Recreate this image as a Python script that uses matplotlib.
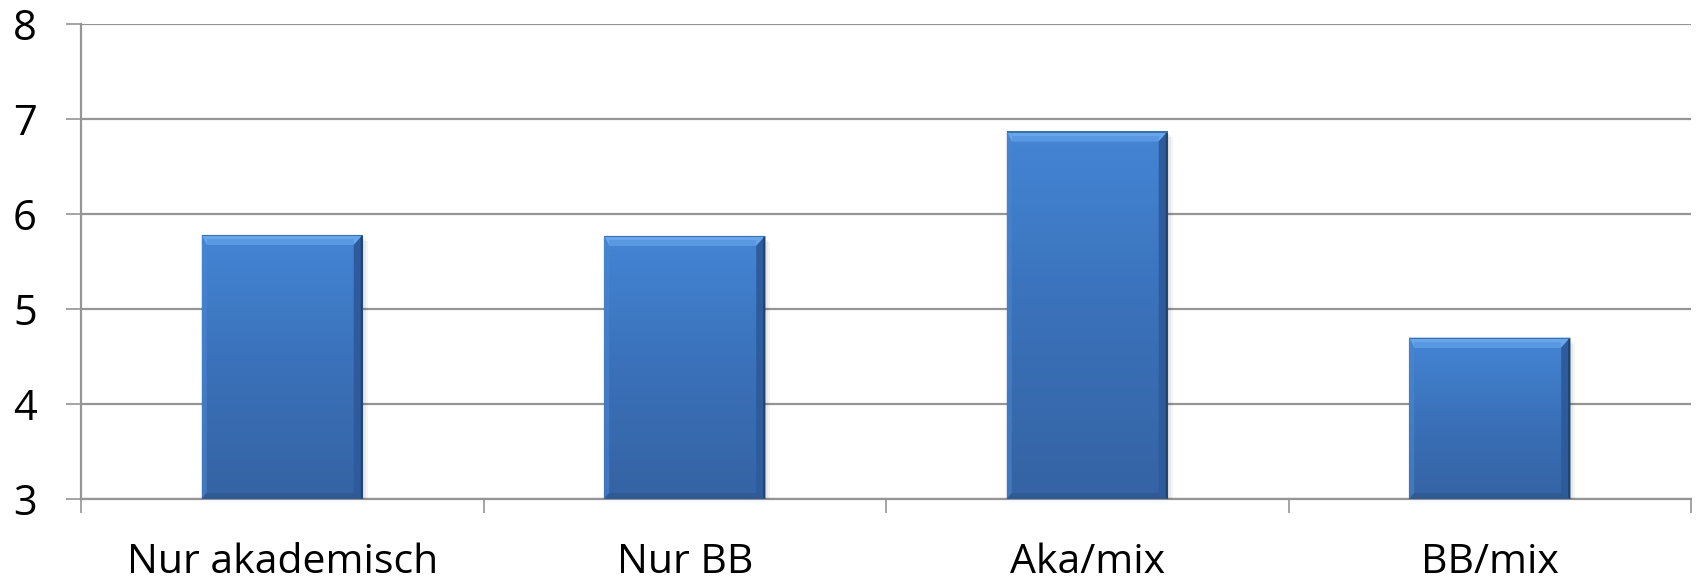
import numpy as np
import matplotlib
matplotlib.use("Agg")
import matplotlib.pyplot as plt
from matplotlib.patches import Polygon, Rectangle
from matplotlib.colors import LinearSegmentedColormap

# Chart data
categories = ["Nur akademisch", "Nur BB", "Aka/mix", "BB/mix"]
values = [5.78, 5.77, 6.87, 4.70]
y_min, y_max = 3, 8
y_ticks = [3, 4, 5, 6, 7, 8]

W, H, DPI = 1698, 582, 100
plt.rcParams["font.family"] = ["Open Sans", "DejaVu Sans"]

fig = plt.figure(figsize=(W / DPI, H / DPI), dpi=DPI)
ax_left, ax_right, ax_top, ax_bottom = 81, 1691, 24, 499
ax = fig.add_axes([ax_left / W, 1 - ax_bottom / H,
                   (ax_right - ax_left) / W, (ax_bottom - ax_top) / H])

x = np.arange(len(categories))
ax.set_xlim(-0.5, len(categories) - 0.5)
ax.set_ylim(y_min, y_max)

grid_col = "#959595"
ax.set_yticks(y_ticks)
ax.yaxis.grid(True, color=grid_col, linewidth=1.6, zorder=0)
ax.set_axisbelow(True)
for s in ["top", "right", "bottom"]:
    ax.spines[s].set_visible(False)
ax.spines["left"].set_color(grid_col)
ax.spines["left"].set_linewidth(1.6)
ax.axhline(y_min, color=grid_col, linewidth=1.6, zorder=1, clip_on=False)

ax.tick_params(axis="y", length=10.8, width=1.2, color=grid_col,
               labelsize=30, pad=21)
ax.set_xticks(x)
ax.set_xticklabels(categories)
ax.tick_params(axis="x", which="major", length=0, labelsize=29.5, pad=31)
ax.set_xticks(np.arange(len(categories) + 1) - 0.5, minor=True)
ax.tick_params(axis="x", which="minor", length=10, width=1.2, color=grid_col)

bar_w = 0.4
bars = ax.bar(x, np.array(values) - y_min, bottom=y_min, width=bar_w,
              color="none", edgecolor="none", zorder=3)

# pixel -> data conversions for bevel and shadow sizes
px_x = (ax_right - ax_left) / (len(categories))   # pixels per x unit
px_y = (ax_bottom - ax_top) / (y_max - y_min)      # pixels per y unit
def dx(p):
    return p / px_x
def dy(p):
    return p / px_y

body_cmap = LinearSegmentedColormap.from_list(
    "body", ["#3563a4", "#3a71b9", "#4485d5"])
grad = np.linspace(0, 1, 256).reshape(-1, 1)

for rect in bars:
    x0 = rect.get_x()
    x1 = x0 + rect.get_width()
    y0 = rect.get_y()
    y1 = y0 + rect.get_height()

    # soft outer shadow
    for i, a in enumerate([0.06, 0.05, 0.04]):
        off = 2 + i * 2
        ax.add_patch(Rectangle((x0 + dx(off - 3), y0), (x1 - x0) + dx(2),
                               (y1 - y0) - dy(off), facecolor="black",
                               alpha=a, edgecolor="none", zorder=2))

    # gradient body
    im = ax.imshow(grad, cmap=body_cmap, aspect="auto", origin="lower",
                   extent=[x0, x1, y0, y1], zorder=3, interpolation="bilinear")
    clip = Rectangle((x0, y0), x1 - x0, y1 - y0, transform=ax.transData)
    im.set_clip_path(clip)

    bt, bs, br, bb = 10, 5, 9, 6  # bevel sizes in pixels
    # top bevel (light)
    ax.add_patch(Polygon([(x0, y1), (x1, y1), (x1 - dx(br), y1 - dy(bt)),
                          (x0 + dx(bs), y1 - dy(bt))],
                         facecolor="#68a6ec", edgecolor="none", zorder=4))
    ax.add_patch(Polygon([(x0 + dx(bs), y1 - dy(bt * 0.45)),
                          (x1 - dx(br), y1 - dy(bt * 0.45)),
                          (x1 - dx(br), y1 - dy(bt)),
                          (x0 + dx(bs), y1 - dy(bt))],
                         facecolor="#5a98e2", edgecolor="none", zorder=4))
    # left bevel (slightly light)
    ax.add_patch(Polygon([(x0, y1), (x0 + dx(bs), y1 - dy(bt)),
                          (x0 + dx(bs), y0 + dy(bb)), (x0, y0)],
                         facecolor="#4a86cf", edgecolor="none", zorder=4,
                         alpha=0.6))
    # right bevel (dark)
    ax.add_patch(Polygon([(x1, y1), (x1 - dx(br), y1 - dy(bt)),
                          (x1 - dx(br), y0 + dy(bb)), (x1, y0)],
                         facecolor="#2d5b9c", edgecolor="none", zorder=4))
    ax.add_patch(Polygon([(x1, y1), (x1 - dx(2), y1 - dy(2)),
                          (x1 - dx(2), y0), (x1, y0)],
                         facecolor="#1f426f", edgecolor="none", zorder=4))
    # bottom bevel (dark)
    ax.add_patch(Polygon([(x0, y0), (x1, y0), (x1 - dx(br), y0 + dy(bb)),
                          (x0 + dx(bs), y0 + dy(bb))],
                         facecolor="#2f5a93", edgecolor="none", zorder=4))
    # thin dark top edge
    ax.add_patch(Polygon([(x0, y1), (x1, y1), (x1, y1 - dy(1.5)),
                          (x0, y1 - dy(1.5))],
                         facecolor="#3b6fae", edgecolor="none", zorder=4))

fig.savefig("out.png", dpi=DPI, facecolor="white")
